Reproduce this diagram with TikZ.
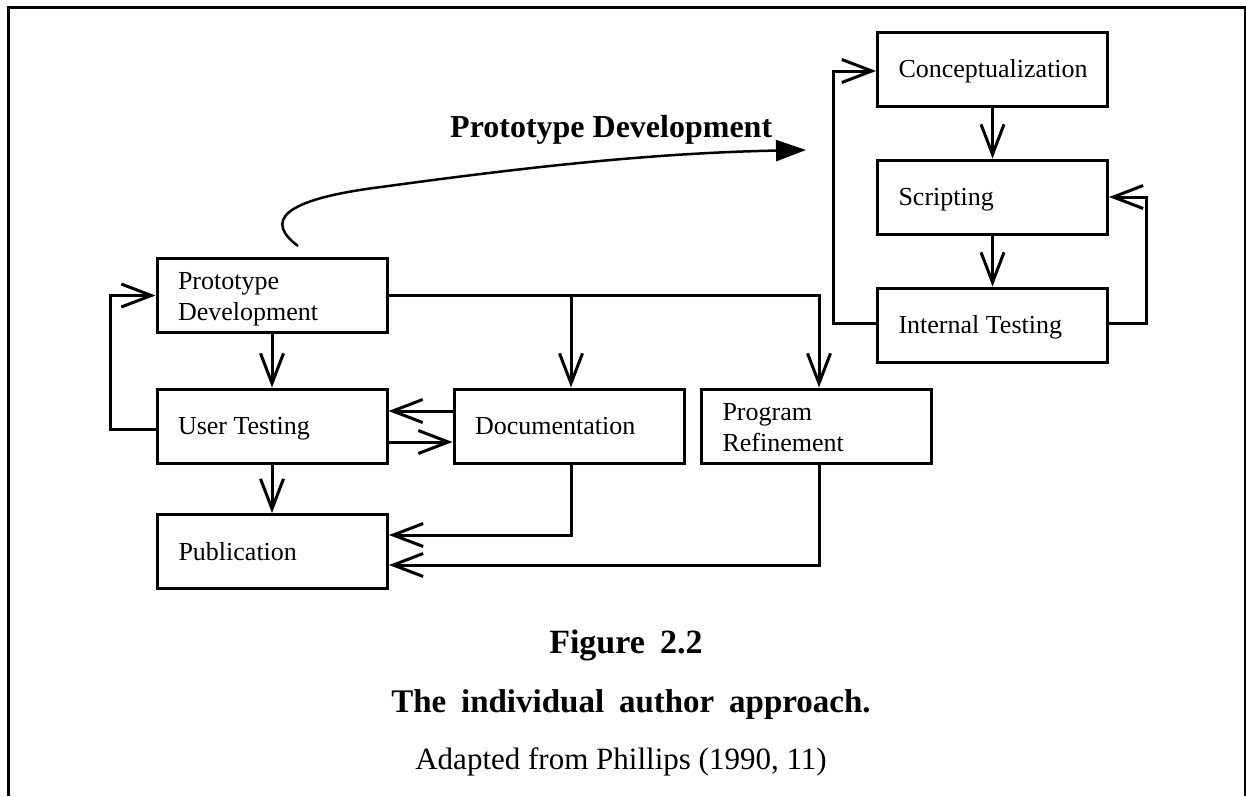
\documentclass[tikz,border=0pt]{standalone}
\usepackage{fontspec}
\setmainfont{Liberation Serif}
\newfontfamily\capfont[WordSpace=1.8]{Liberation Serif}
\usetikzlibrary{arrows.meta,calc}
\hyphenpenalty=10000
\exhyphenpenalty=10000
\begin{document}
\begin{tikzpicture}[x=1pt,y=-1pt,
  box/.style={draw, line width=3pt, minimum width=230pt, minimum height=74pt,
    inner xsep=21pt, inner ysep=0pt, text width=188pt, align=flush left,
    font=\fontsize{26}{31}\selectfont, text height=17pt, text depth=0pt,
    execute at begin node={\spaceskip=0pt\xspaceskip=0pt}},
  boxtwo/.style={box, text depth=28.5pt},
  conn/.style={line width=3pt, -{Straight Barb[length=30pt,width=23pt]}},
  bigarrow/.style={line width=2.5pt, -{Triangle[length=30pt,width=21pt]}}]
\useasboundingbox (0,0) rectangle (1246,796);
% frame
\draw[line width=3pt] (8.5,796) -- (8.5,7.5) -- (1245,7.5) -- (1245,796);

% boxes
\node[box] (concept) at (992.5,69) {Conceptualization};
\node[box] (script) at (992.5,197) {Scripting};
\node[box] (internal) at (992.5,325) {Internal Testing};
\node[boxtwo] (proto) at (272,295.5) {Prototype\\Development};
\node[box] (user) at (272,426) {User Testing};
\node[box] (doc) at (569,426) {Documentation};
\node[boxtwo] (prog) at (816.5,426) {Program\\Refinement};
\node[box] (pub) at (272.5,551.5) {Publication};

% right cycle
\draw[conn] (concept) -- (script);
\draw[conn] (script) -- (internal);
\draw[conn] ([yshift=2pt]internal.west) -- ++(-43,0) |- ([yshift=-2pt]concept.west);
\draw[conn] ([yshift=2pt]internal.east) -- ++(37,0) |- (script.east);

% left flow
\draw[conn] (proto) -- (user);
\draw[conn] (user.south) -- (user.south |- pub.north);
\draw[conn] (proto.east) -| ([xshift=2.5pt]prog.north);
\draw[conn] ([xshift=2pt]proto.east -| doc.north) -- ([xshift=2pt]doc.north);
\draw[conn] ([yshift=15pt]doc.west) -- ([yshift=15pt]doc.west -| user.east);
\draw[conn] ([yshift=-16pt]user.east) -- ([yshift=-16pt]user.east -| doc.west);
\draw[conn] ([yshift=-3pt]user.west) -- ++(-45,0) |- (proto.west);
\draw[conn] ([xshift=2pt]doc.south) |- ([yshift=16.5pt]pub.east);
\draw[conn] ([xshift=2.5pt]prog.south) |- ([yshift=-13.5pt]pub.east);

% big curved arrow
\coordinate (cs) at (298,246);
\coordinate (ce) at (806,150);
\draw[bigarrow] (cs) .. controls (266,222) and (278,200) .. (381,187)
  .. controls (520,168) and (650,153) .. (ce);
\node[anchor=base west, inner sep=0pt, font=\bfseries\fontsize{32}{37}\selectfont] (title) at (450,137) {Prototype Development};

% caption
\node[anchor=base, font=\capfont\bfseries\fontsize{34}{40}\selectfont] (fig) at (626,653) {Figure 2.2};
\node[anchor=base, font=\capfont\bfseries\fontsize{33}{40}\selectfont] (cap) at (631,712) {The individual author approach.};
\node[anchor=base, font=\fontsize{31}{36}\selectfont] (src) at (621,769) {Adapted from Phillips (1990, 11)};
\end{tikzpicture}
\end{document}
